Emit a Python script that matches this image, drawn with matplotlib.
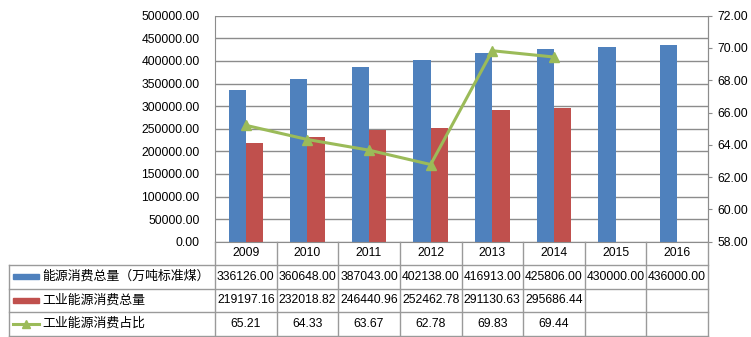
import matplotlib.pyplot as plt
from matplotlib.lines import Line2D
from matplotlib.patches import Rectangle
from matplotlib.transforms import blended_transform_factory
import numpy as np

plt.rcParams['font.family'] = ['Liberation Sans', 'Noto Sans CJK SC']
plt.rcParams['font.size'] = 8.7

years = ['2009', '2010', '2011', '2012', '2013', '2014', '2015', '2016']
total = [336126.00, 360648.00, 387043.00, 402138.00, 416913.00, 425806.00, 430000.00, 436000.00]
industry = [219197.16, 232018.82, 246440.96, 252462.78, 291130.63, 295686.44, None, None]
share = [65.21, 64.33, 63.67, 62.78, 69.83, 69.44, None, None]
names = ['能源消费总量（万吨标准煤）', '工业能源消费总量', '工业能源消费占比']

blue = '#4F81BD'
red = '#C0504D'
green = '#9BBB59'
grid_c = '#8C8C8C'

W, H = 751, 337
fig = plt.figure(figsize=(W / 100, H / 100), dpi=100)

def fx(px):
    return px / W

def fy(py):
    return 1 - py / H

left, right, top, bottom = 215, 708, 15.7, 241.7
ax = fig.add_axes([fx(left), fy(bottom), fx(right) - fx(left), fy(top) - fy(bottom)])

x = np.arange(len(years))
bw = 0.28
ax.bar(x - bw / 2, total, bw, color=blue, zorder=2)
ind_x = [xi for xi, v in zip(x, industry) if v is not None]
ind_v = [v for v in industry if v is not None]
ax.bar(np.array(ind_x) + bw / 2, ind_v, bw, color=red, zorder=2)

ax.set_xlim(-0.5, len(years) - 0.5)
ax.set_ylim(0, 500000)
ax.set_yticks(np.arange(0, 500001, 50000))
ax.set_yticklabels([f'{v:.2f}' for v in np.arange(0, 500001, 50000)])
ax.set_xticks([])
ax.yaxis.grid(True, color=grid_c, linewidth=1)
ax.set_axisbelow(True)
ax.tick_params(axis='y', length=0, pad=11)
ax.spines['top'].set_visible(False)
for s in ['left', 'bottom', 'right']:
    ax.spines[s].set_color(grid_c)

ax2 = ax.twinx()
sh_x = [xi for xi, v in zip(x, share) if v is not None]
sh_v = [v for v in share if v is not None]
ax2.plot(sh_x, sh_v, color=green, linewidth=2.2, marker='^', markersize=7, zorder=3)
ax2.set_ylim(58, 72)
ax2.set_yticks(np.arange(58, 72.1, 2))
ax2.set_yticklabels([f'{v:.2f}' for v in np.arange(58, 72.1, 2)])
ax2.tick_params(axis='y', direction='out', length=3, color=grid_c, pad=3.6)
for s in ['top', 'left', 'bottom']:
    ax2.spines[s].set_visible(False)
ax2.spines['right'].set_color(grid_c)

# data table
trans = blended_transform_factory(ax.transData, fig.transFigure)
rows_y = [bottom, 265, 288.5, 312, 335.5]
tbl_left = 9
lc = '#9A9A9A'

for ry in rows_y[1:]:
    fig.add_artist(Line2D([fx(tbl_left), fx(right)], [fy(ry), fy(ry)], color=lc, linewidth=1))
fig.add_artist(Line2D([fx(tbl_left), fx(tbl_left)], [fy(rows_y[1]), fy(rows_y[-1])], color=lc, linewidth=1))

for b in np.arange(-0.5, len(years), 1.0):
    fig.add_artist(Line2D([b, b], [fy(rows_y[0]), fy(rows_y[-1])], color=lc, linewidth=1, transform=trans))

def mid(i):
    return fy((rows_y[i] + rows_y[i + 1]) / 2)

for xi, yr in zip(x, years):
    fig.text(xi, mid(0), yr, transform=trans, ha='center', va='center')
    fig.text(xi, mid(1), f'{total[xi]:.2f}', transform=trans, ha='center', va='center')
    if industry[xi] is not None:
        fig.text(xi, mid(2), f'{industry[xi]:.2f}', transform=trans, ha='center', va='center')
    if share[xi] is not None:
        fig.text(xi, mid(3), f'{share[xi]:.2f}', transform=trans, ha='center', va='center')

# legend keys in the table
kx0, kx1 = 13, 39
fig.add_artist(Rectangle((fx(kx0), mid(1) - 2.5 / H), fx(kx1) - fx(kx0), 5 / H, color=blue))
fig.add_artist(Rectangle((fx(kx0), mid(2) - 2.5 / H), fx(kx1) - fx(kx0), 5 / H, color=red))
fig.add_artist(Line2D([fx(kx0), fx(kx1)], [mid(3), mid(3)], color=green, linewidth=2.2))
fig.add_artist(Line2D([fx((kx0 + kx1) / 2)], [mid(3)], color=green, marker='^', markersize=6))
for i, name in enumerate(names):
    fig.text(fx(42), mid(i + 1), name, ha='left', va='center', fontsize=9.3)

fig.savefig('out.png', dpi=100)
